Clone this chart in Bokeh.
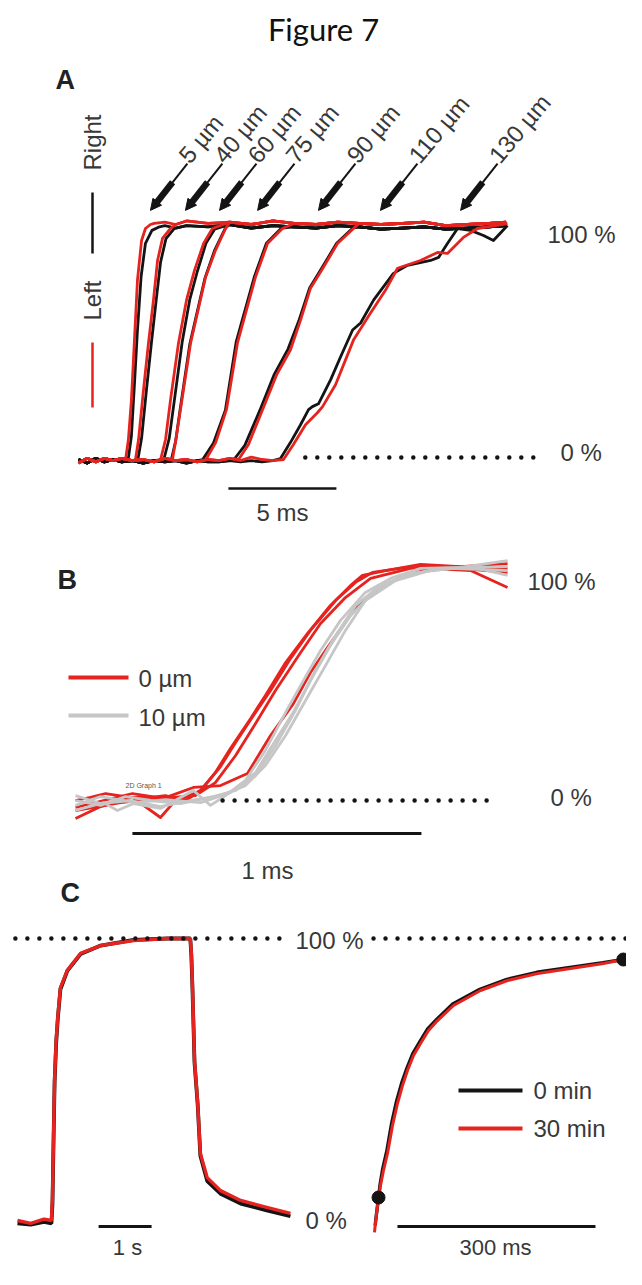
import math
from bokeh.plotting import figure
from bokeh.models import Range1d, Arrow, NormalHead
from bokeh.embed import file_html
from bokeh.resources import INLINE
from bokeh.core.properties import value

# ======================= DATA =======================
# ---- Panel A: time (ms) vs normalised signal (%) ----
A_DIST = ["5 µm", "40 µm", "60 µm", "75 µm", "90 µm", "110 µm", "130 µm"]
A_ARROW_T = [3.33, 4.95, 6.53, 8.29, 11.11, 13.98, 17.69]   # arrow tips (ms)
A_SCALE_MS = 5

A_BASE_T = [0.0, 0.4, 0.8, 1.2, 1.6, 2.0, 2.5, 3.0, 3.5, 4.0, 4.5, 5.0, 5.5, 6.0, 6.5, 7.0, 7.5, 8.0, 8.5, 9.0]
A_BASE_RED = [-1.5, 0.5, -1.0, 0.5, -0.5, 0.5, -0.5, 0.0, -1.0, 0.5, -0.5, 0.0, -1.0, 0.0, -0.5, 0.5, -0.5, 1.0, 0.0, -0.5]
A_BASE_BLACK = [0.0, -1.5, 0.5, -1.0, 0.0, -1.0, -0.5, -1.5, -0.5, -1.0, -0.5, -1.5, -0.5, -1.0, -1.0, -0.5, -1.0, -0.5, -1.0, -0.5]
A_TOP_T = [3.5, 4.0, 4.5, 5.0, 6.0, 7.0, 8.0, 9.0, 10.0, 11.0, 12.0, 13.0, 14.0, 15.0, 16.0, 17.0, 18.0, 19.0, 19.8]
A_TOP_RED = [100.5, 101.0, 100.0, 101.5, 100.5, 101.0, 100.0, 101.5, 100.5, 100.0, 101.0, 100.5, 100.0, 100.5, 101.0, 99.5, 100.0, 100.5, 101.0]
A_TOP_BLACK = [99.0, 99.5, 98.5, 99.5, 99.0, 100.0, 98.5, 99.5, 99.0, 98.5, 99.5, 99.0, 98.0, 98.5, 99.0, 98.0, 98.5, 99.0, 99.5]

A_RED_T = [
    [2.18, 2.31, 2.45, 2.59, 2.73, 2.92, 3.10, 3.33],
    [2.64, 2.78, 3.01, 3.24, 3.47, 3.66, 3.89, 4.26],
    [3.80, 4.03, 4.26, 4.63, 5.00, 5.37, 5.79, 6.20],
    [4.35, 4.50, 4.72, 5.19, 5.88, 6.34, 6.81],
    [5.90, 6.35, 6.85, 7.36, 8.19, 8.75, 9.44],
    [7.41, 7.87, 8.52, 9.17, 9.81, 10.28, 10.74, 11.34, 11.99, 12.73],
    [9.49, 9.95, 10.51, 11.06, 11.30, 11.90, 12.73, 13.52, 14.21, 14.77, 15.83, 16.62, 17.08, 17.82, 18.47, 19.86],
]
A_RED_V = [
    [0, 8.5, 25.4, 50.8, 76.3, 93.2, 98.3, 100],
    [0, 8.5, 29.7, 49.6, 67.8, 84.7, 94.1, 98.3],
    [0, 8.5, 25.4, 49.6, 67.8, 80.5, 91.9, 98.3],
    [0, 8.0, 21.2, 49.6, 77.5, 89.0, 98.3],
    [0, 7.2, 21.2, 49.6, 77.5, 91.9, 98.3],
    [0, 6.4, 21.2, 36.0, 46.6, 59.3, 72.9, 81.8, 91.9, 98.3],
    [0, 6.4, 14.8, 19.9, 22.5, 31.8, 50.8, 62.3, 72.0, 81.4, 84.7, 88.1, 87.7, 94.5, 98.3, 100.4],
]
A_BLACK_T = [
    [2.30, 2.45, 2.59, 2.73, 2.90, 3.10, 3.40, 3.75],
    [2.75, 2.92, 3.15, 3.38, 3.60, 3.80, 4.05, 4.45],
    [3.95, 4.20, 4.45, 4.80, 5.15, 5.50, 5.90, 6.30],
    [4.30, 4.50, 4.70, 5.15, 5.85, 6.30, 6.80],
    [5.75, 6.25, 6.80, 7.30, 8.15, 8.70, 9.40],
    [7.20, 7.70, 8.40, 9.05, 9.70, 10.20, 10.70, 11.30, 11.95, 12.70],
    [9.35, 9.81, 10.28, 10.65, 10.83, 11.11, 11.67, 12.13, 12.69, 13.06, 13.66, 14.58, 15.23, 16.30, 16.67, 17.08, 17.55, 18.15, 18.75, 19.21, 19.86],
]
A_BLACK_V = [
    [0, 10, 32, 55, 78, 92, 97.5, 99],
    [0, 9, 30, 50, 68, 84, 94, 98.5],
    [0, 9, 26, 50, 68, 80, 92, 98],
    [0, 8, 21, 49, 77, 89, 98.5],
    [0, 7, 21, 50, 78, 92, 98.5],
    [0, 6, 21, 36, 47, 59, 73, 82, 92, 98.5],
    [0.4, 7.2, 14.8, 21.2, 22.5, 23.7, 33.9, 43.6, 55.1, 58.1, 67.8, 79.2, 82.6, 84.7, 86.0, 91.9, 98.3, 97.5, 95.3, 93.2, 99.6],
]

# ---- Panel B: time (ms) vs normalised signal (%) ----
B_SCALE_MS = 1
B_RED_T = [
    [0, .052, .104, .190, .260, .311, .381, .433, .484, .536, .606, .657, .727, .803, .882, .952, .993, 1.073, 1.194, 1.332, 1.495],
    [0, .087, .197, .294, .339, .433, .502, .554, .623, .675, .744, .813, .900, .969, 1.028, 1.194, 1.367, 1.495],
    [0, .097, .197, .304, .408, .502, .595, .675, .754, .813, .872, .962, 1.038, 1.125, 1.228, 1.367, 1.495],
    [0, .156, .294, .415, .484, .554, .623, .692, .779, .848, .934, 1.021, 1.159, 1.298, 1.495],
]
B_RED_V = [
    [0, 1.3, 3.0, 1.3, 1.3, 2.1, 0, 4.3, 12.0, 22.3, 35.2, 45.1, 59.2, 71.7, 83.7, 92.3, 96.6, 98.7, 101.3, 100.4, 101.7],
    [-7.7, -2.6, 1.3, -7.3, -0.9, 4.3, 14.6, 24.9, 37.8, 47.2, 60.9, 73.0, 85.8, 93.6, 97.9, 100.9, 100.0, 99.6],
    [-3.0, 0, 3.0, 0.9, 5.6, 6.4, 11.6, 27.9, 41.6, 54.9, 65.7, 81.5, 90.1, 95.7, 99.6, 98.7, 91.4],
    [-4.3, -0.9, 0.9, 2.1, 7.7, 19.3, 33.0, 47.2, 63.5, 76.0, 87.1, 95.3, 99.6, 100.0, 97.9],
]
B_GRAY_T = [
    [0, .097, .145, .201, .294, .408, .467, .519, .588, .657, .727, .779, .848, .917, 1.003, 1.090, 1.194, 1.332, 1.495],
    [0, .087, .173, .260, .363, .467, .554, .623, .692, .761, .830, .900, .969, 1.055, 1.159, 1.298, 1.495],
    [0, .087, .190, .294, .398, .502, .588, .657, .727, .796, .865, .934, 1.003, 1.107, 1.228, 1.367, 1.495],
    [0, .087, .208, .311, .433, .536, .623, .692, .751, .813, .882, .952, 1.038, 1.142, 1.263, 1.495],
]
B_GRAY_V = [
    [-4.3, -0.9, -4.3, -1.3, -3.4, 4.3, -2.1, 2.1, 8.6, 21.5, 37.8, 49.4, 64.4, 77.3, 89.3, 95.3, 99.6, 100.0, 103.0],
    [0, -2.1, 1.7, 0, -1.3, 1.3, 4.3, 10.7, 23.6, 38.6, 55.8, 70.8, 83.7, 92.3, 97.4, 99.6, 98.7],
    [2.1, -1.3, 0, -2.6, 0, 2.1, 6.4, 15.0, 27.9, 42.9, 57.9, 73.0, 85.8, 94.4, 98.7, 100.4, 96.6],
    [-2.1, 1.7, -0.9, 0.4, -0.9, 3.4, 12.0, 25.8, 37.3, 51.5, 66.5, 79.4, 90.1, 96.6, 99.6, 100.4],
]
B_LEGEND = ["0 µm", "10 µm"]

# ---- Panel C left: time (s) vs normalised signal (%) ----
C1_SCALE_S = 1
C1_RED_T = [0, 0.25, 0.5, 0.64, 0.66, 0.68, 0.70, 0.73, 0.76, 0.81, 0.94, 1.19, 1.57, 2.19, 2.83, 3.26, 3.28, 3.30, 3.34, 3.40, 3.45, 3.58, 3.83, 4.21, 4.72, 5.15]
C1_RED_V = [0, -1, 0.5, 0, 8, 30, 50, 64, 72, 82.6, 88.7, 94.7, 97.5, 99.3, 100, 100, 95, 84, 56.7, 41.5, 23.8, 15.2, 10.6, 7.1, 4.6, 2.5]
C1_BLACK_T = [0, 0.25, 0.5, 0.64, 0.66, 0.68, 0.70, 0.73, 0.76, 0.81, 0.94, 1.19, 1.57, 2.19, 2.83, 3.26, 3.28, 3.30, 3.34, 3.40, 3.45, 3.58, 3.83, 4.21, 4.72, 5.15]
C1_BLACK_V = [-1, -1.5, -0.5, -1, 6, 28, 49, 63, 71.5, 82, 88.5, 94.5, 97.5, 99.5, 100, 100, 94, 83, 56, 41, 23, 14, 9.5, 6, 3.5, 1.5]

# ---- Panel C right: time (ms) vs normalised signal (%) ----
C2_SCALE_MS = 300
C2_RED_T = [0, 1.5, 6.1, 9.1, 13.6, 19.7, 27.3, 34.8, 42.4, 50, 59.1, 69.7, 81.8, 95.5, 119.7, 160.6, 201.5, 247, 297, 347, 377, 406]
C2_RED_V = [-3.5, 0, 8.8, 13.0, 18.3, 24.3, 34.2, 41.9, 48.2, 53.5, 58.8, 63.0, 67.6, 71.1, 76.4, 81.7, 85.2, 87.7, 89.4, 91.2, 92.6, 93.3]
C2_BLACK_T = [1.0, 2.5, 6.1, 8.5, 12.5, 18.5, 26.0, 33.5, 41.0, 49, 58, 68.5, 80.5, 94.5, 118.5, 159.6, 200.5, 246, 296, 346, 377, 406]
C2_BLACK_V = [-1.0, 2.0, 8.8, 13.5, 19.0, 25.0, 35.0, 42.8, 49.0, 54.3, 59.5, 63.6, 68.2, 71.6, 76.9, 82.1, 85.6, 88.1, 89.8, 91.5, 92.6, 93.4]
C2_MARK_T = [6.1, 377]
C2_MARK_V = [8.8, 92.6]
C_LEGEND = ["0 min", "30 min"]

# ======================= STYLE =======================
RED = "#e5231f"
BLACK = "#141414"
GRAY = "#c6c6c6"
TXT = "#383838"
SANS = value("Liberation Sans")

# ======================= FIGURE =======================
# default ranges are in reference-picture pixels (y downwards)
p = figure(width=626, height=1269, output_backend="svg", toolbar_location=None,
           x_range=Range1d(0, 626), y_range=Range1d(1269, 0),
           x_axis_location=None, y_axis_location=None, min_border=0)
p.grid.visible = False
p.outline_line_color = None
p.background_fill_color = "white"
p.border_fill_color = "white"

PX0, PX1, PY0, PY1 = 0, 626, 1269, 0


def rng(px_lo, px_hi, a_px, a_val, b_px, b_val):
    k = (b_val - a_val) / (b_px - a_px)
    return Range1d(start=a_val + (px_lo - a_px) * k, end=a_val + (px_hi - a_px) * k)


p.extra_x_ranges = {
    "tA": rng(PX0, PX1, 78, 0, 99.6, 1),
    "tB": rng(PX0, PX1, 75, 0, 364, 1),
    "tC1": rng(PX0, PX1, 17, 0, 70, 1),
    "tC2": rng(PX0, PX1, 374, 0, 440, 100),
}
p.extra_y_ranges = {
    "vA": rng(PY0, PY1, 459, 0, 224, 100),
    "vB": rng(PY0, PY1, 800, 0, 567, 100),
    "vC1": rng(PY0, PY1, 1220, 0, 938, 100),
    "vC2": rng(PY0, PY1, 1222, 0, 938, 100),
}


def label(x, y, t, size="24px", align="left", baseline="middle", angle=0.0,
          font=SANS, style="normal", color=TXT, **kw):
    p.text(x=[x], y=[y], text=[t], text_font=font, text_font_size=size,
           text_align=align, text_baseline=baseline, angle=angle,
           text_font_style=style, text_color=color, **kw)


def dotted(x0, x1, y, xr, yr):
    p.line([x0, x1], [y, y], x_range_name=xr, y_range_name=yr, line_color=BLACK,
           line_width=4.5, line_dash="0 12", line_cap="round")


def compose(bt, bv, rt, rv, tt, tv):
    t0, t1 = rt[0], rt[-1]
    xs = [t for t in bt if t < t0] + list(rt) + [t for t in tt if t > t1]
    ys = [v for t, v in zip(bt, bv) if t < t0] + list(rv) + [v for t, v in zip(tt, tv) if t > t1]
    return xs, ys


# ---------- title ----------
label(323, 28, "Figure 7", size="31px", align="center", font=value("Lato"), color="#111111")

# ---------- Panel A ----------
label(55, 79, "A", size="27px", style="bold", color="#222222")
label(92, 142, "Right", angle=math.pi / 2, align="center")
label(92, 300, "Left", angle=math.pi / 2, align="center")
p.line([92, 92], [192, 253], line_color=BLACK, line_width=2.5)
p.line([92, 92], [342, 407], line_color=RED, line_width=2.5)

for i in range(len(A_DIST)):
    xb, yb = compose(A_BASE_T, A_BASE_BLACK, A_BLACK_T[i], A_BLACK_V[i], A_TOP_T, A_TOP_BLACK)
    p.line(xb, yb, x_range_name="tA", y_range_name="vA", line_color=BLACK, line_width=2.8, line_join="round")
for i in range(len(A_DIST)):
    xr, yr = compose(A_BASE_T, A_BASE_RED, A_RED_T[i], A_RED_V[i], A_TOP_T, A_TOP_RED)
    p.line(xr, yr, x_range_name="tA", y_range_name="vA", line_color=RED, line_width=2.8, line_join="round")

# arrows + distance labels
TIP_V = 106.0
DT, DV = 1.71, 19.9
for i, t in enumerate(A_ARROW_T):
    tail_t, tail_v = t + DT, TIP_V + DV
    p.add_layout(Arrow(x_start=tail_t, y_start=tail_v, x_end=t, y_end=TIP_V,
                       x_range_name="tA", y_range_name="vA", line_width=2, line_color=BLACK,
                       end=NormalHead(size=11, fill_color=BLACK, line_color=BLACK)))
    p.line([t + DT * 0.18, t + DT * 0.6], [TIP_V + DV * 0.18, TIP_V + DV * 0.6],
           x_range_name="tA", y_range_name="vA", line_color=BLACK, line_width=6.5)
    label(tail_t - 0.18, tail_v + 1.8, A_DIST[i], size="24px", baseline="alphabetic",
          angle=0.87, x_range_name="tA", y_range_name="vA")

dotted(10.5, 21.6, 0.8, "tA", "vA")
label(547, 234, "100 %")
label(560, 452, "0 %")
p.line([6.94, 6.94 + A_SCALE_MS], [-12.3, -12.3], x_range_name="tA", y_range_name="vA",
       line_color=BLACK, line_width=2.5)
label(282, 512, f"{A_SCALE_MS} ms", align="center")

# ---------- Panel B ----------
label(57, 579, "B", size="27px", style="bold", color="#222222")
for i in range(len(B_RED_T)):
    p.line(B_RED_T[i], B_RED_V[i], x_range_name="tB", y_range_name="vB", line_color=RED,
           line_width=2.8, line_join="round")
for i in range(len(B_GRAY_T)):
    p.line(B_GRAY_T[i], B_GRAY_V[i], x_range_name="tB", y_range_name="vB", line_color=GRAY,
           line_width=2.8, line_join="round")
dotted(0.509, 1.446, 0, "tB", "vB")
label(527, 581, "100 %")
label(550, 797, "0 %")
p.line([68, 128], [677, 677], line_color=RED, line_width=4)
p.line([68, 128], [715, 715], line_color=GRAY, line_width=4)
label(138, 678, B_LEGEND[0])
label(138, 717, B_LEGEND[1])
label(125, 785, "2D Graph 1", size="7px", color="#555555")
p.line([0.197, 0.197 + B_SCALE_MS], [-14.2, -14.2], x_range_name="tB", y_range_name="vB",
       line_color=BLACK, line_width=3)
label(267, 870, f"{B_SCALE_MS} ms", align="center")

# ---------- Panel C ----------
label(60, 892, "C", size="27px", style="bold", color="#222222")
p.line(C1_BLACK_T, C1_BLACK_V, x_range_name="tC1", y_range_name="vC1", line_color=BLACK, line_width=3.8)
p.line(C1_RED_T, C1_RED_V, x_range_name="tC1", y_range_name="vC1", line_color=RED, line_width=3.4)
dotted(-0.04, 5.09, 100, "tC1", "vC1")
label(295, 940, "100 %")
label(305, 1220, "0 %")
p.line([1.53, 1.53 + C1_SCALE_S], [-2.1, -2.1], x_range_name="tC1", y_range_name="vC1",
       line_color=BLACK, line_width=3)
label(127, 1247, f"{C1_SCALE_S} s", size="22px", align="center", baseline="middle")

p.line(C2_BLACK_T, C2_BLACK_V, x_range_name="tC2", y_range_name="vC2", line_color=BLACK, line_width=3.4)
p.line(C2_RED_T, C2_RED_V, x_range_name="tC2", y_range_name="vC2", line_color=RED, line_width=3.0)
p.scatter(C2_MARK_T, C2_MARK_V, x_range_name="tC2", y_range_name="vC2", size=13,
          fill_color=BLACK, line_color=BLACK)
dotted(-1.5, 420, 100, "tC2", "vC2")
p.line([34.8, 34.8 + C2_SCALE_MS], [-1.4, -1.4], x_range_name="tC2", y_range_name="vC2",
       line_color=BLACK, line_width=3)
label(495, 1247, f"{C2_SCALE_MS} ms", size="22px", align="center", baseline="middle")
p.line([458, 522], [1090, 1090], line_color=BLACK, line_width=4)
p.line([458, 522], [1128, 1128], line_color=RED, line_width=4)
label(533, 1090, C_LEGEND[0])
label(533, 1128, C_LEGEND[1])

open("out.html", "w").write(file_html(p, INLINE))
